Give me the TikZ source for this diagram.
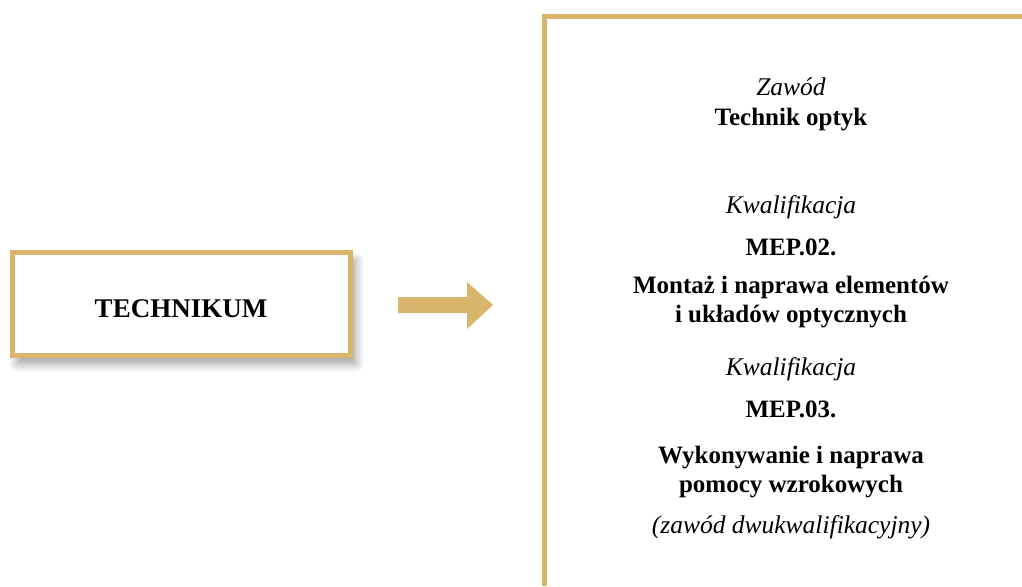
\documentclass[tikz,border=0pt]{standalone}
\usepackage{fontspec}
\setmainfont{Liberation Serif}
\usetikzlibrary{shadows.blur}
\definecolor{gold}{HTML}{D8B56B}
\tikzset{
  bt/.style={font=\fontsize{25}{29}\selectfont\bfseries, anchor=base, inner sep=0pt},
  it/.style={font=\fontsize{25.5}{29}\selectfont\itshape, anchor=base, inner sep=0pt},
}
\begin{document}
\begin{tikzpicture}[x=1pt,y=-1pt]
\useasboundingbox (0,0) rectangle (1022,586);
% TECHNIKUM box
\node[draw=gold, line width=5pt, fill=white, minimum width=338pt, minimum height=103pt,
      blur shadow={shadow xshift=5pt, shadow yshift=-8pt, shadow blur radius=9pt, shadow blur steps=12, shadow opacity=40},
      inner sep=0pt] (box) at (181.5,304) {};
\node[bt, font=\fontsize{27}{31}\selectfont\bfseries] (tech) at (181,317) {TECHNIKUM};
% arrow
\fill[gold] (398,297) -- (467,297) -- (467,282) -- (493,305) -- (467,329) -- (467,313) -- (398,313) -- cycle;
% frame
\coordinate (f0) at (544.5,586);
\coordinate (f1) at (544.5,16.5);
\coordinate (f2) at (1022,16.5);
\draw[gold, line width=5pt] (f0) -- (f1) -- (f2);
% texts
\def\cx{791}
\node[it] (t1) at (\cx,95) {Zawód};
\node[bt] (t2) at (\cx,125) {Technik optyk};
\node[it] (t3) at (\cx,213) {Kwalifikacja};
\node[bt] (t4) at (\cx,255) {MEP.02.};
\node[bt] (t5) at (\cx,293) {Montaż i naprawa elementów};
\node[bt] (t6) at (\cx,322) {i układów optycznych};
\node[it] (t7) at (\cx,375) {Kwalifikacja};
\node[bt] (t8) at (\cx,417) {MEP.03.};
\node[bt] (t9) at (\cx,463) {Wykonywanie i naprawa};
\node[bt] (t10) at (\cx,492) {pomocy wzrokowych};
\node[it] (t11) at (\cx,533) {(zawód dwukwalifikacyjny)};
\end{tikzpicture}
\end{document}
